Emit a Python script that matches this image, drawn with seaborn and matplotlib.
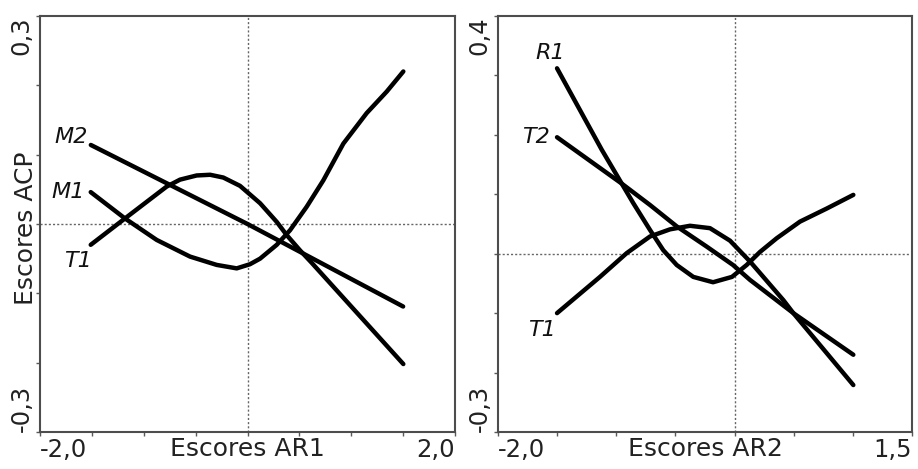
import matplotlib
matplotlib.use("Agg")
import matplotlib.pyplot as plt
import pandas as pd
import seaborn as sns

sns.set_style("white")
plt.rcParams["font.family"] = ["DejaVu Sans"]

# left panel: PCA scores vs AR1 scores
ar1_m2_x = [-1.51, 0.0, 1.50]
ar1_m2_y = [0.114, 0.0, -0.119]
ar1_m1_x = [-1.511, -1.181, -0.875, -0.554, -0.297, -0.104, 0.024, 0.121, 0.282, 0.410,
            0.571, 0.731, 0.924, 1.149, 1.342, 1.502]
ar1_m1_y = [0.046, 0.008, -0.023, -0.047, -0.059, -0.064, -0.058, -0.050, -0.030, -0.009,
            0.025, 0.063, 0.116, 0.160, 0.191, 0.220]
ar1_t1_x = [-1.511, -1.181, -0.779, -0.650, -0.490, -0.360, -0.233, -0.072, 0.121, 0.282,
            0.378, 0.506, 0.619, 1.502]
ar1_t1_y = [-0.030, 0.008, 0.054, 0.064, 0.070, 0.071, 0.067, 0.055, 0.030, 0.003,
            -0.016, -0.038, -0.056, -0.202]

# right panel: PCA scores vs AR2 scores
ar2_r1_x = [-1.501, -1.123, -0.954, -0.856, -0.715, -0.603, -0.489, -0.349, -0.182, -0.022,
            0.102, 0.215, 0.356, 0.553, 0.779, 1.004]
ar2_r1_y = [0.312, 0.175, 0.118, 0.085, 0.040, 0.006, -0.019, -0.039, -0.048, -0.039,
            -0.019, 0.003, 0.026, 0.054, 0.076, 0.099]
ar2_t2_x = [-1.501, -0.954, -0.715, -0.489, -0.236, -0.013, 0.130, 0.497, 1.004]
ar2_t2_y = [0.196, 0.118, 0.082, 0.046, 0.012, -0.019, -0.044, -0.100, -0.170]
ar2_t1_x = [-1.501, -1.138, -0.912, -0.715, -0.546, -0.377, -0.208, -0.039, 0.130,
            0.243, 0.412, 0.497, 1.004]
ar2_t1_y = [-0.100, -0.039, 0.001, 0.029, 0.041, 0.047, 0.043, 0.022, -0.013,
            -0.039, -0.078, -0.100, -0.221]

panels = [
    {
        "curves": [("M2", ar1_m2_x, ar1_m2_y, (-2, 6)),
                   ("M1", ar1_m1_x, ar1_m1_y, (-4, 0)),
                   ("T1", ar1_t1_x, ar1_t1_y, (1, -12))],
        "xlim": (-2.0, 2.0), "ylim": (-0.3, 0.3),
        "xticks": [-2.0, -1.5, -1.0, -0.5, 0.0, 0.5, 1.0, 1.5, 2.0],
        "xticklabels": ["-2,0", "", "", "", "", "", "", "", "2,0"],
        "yticks": [-0.3, -0.2, -0.1, 0.0, 0.1, 0.2, 0.3],
        "yticklabels": ["-0,3", "", "", "", "", "", "0,3"],
        "xlabel": "Escores AR1", "ylabel": "Escores ACP",
        "rect": [40 / 918, 37 / 469, 415 / 918, 416 / 469],
    },
    {
        "curves": [("R1", ar2_r1_x, ar2_r1_y, (6, 11)),
                   ("T2", ar2_t2_x, ar2_t2_y, (-5, 0)),
                   ("T1", ar2_t1_x, ar2_t1_y, (-1, -12))],
        "xlim": (-2.0, 1.5), "ylim": (-0.3, 0.4),
        "xticks": [-2.0, -1.5, -1.0, -0.5, 0.0, 0.5, 1.0, 1.5],
        "xticklabels": ["-2,0", "", "", "", "", "", "", "1,5"],
        "yticks": [-0.3, -0.2, -0.1, 0.0, 0.1, 0.2, 0.3, 0.4],
        "yticklabels": ["-0,3", "", "", "", "", "", "", "0,4"],
        "xlabel": "Escores AR2", "ylabel": "",
        "rect": [498 / 918, 37 / 469, 414 / 918, 416 / 469],
    },
]

fig = plt.figure(figsize=(9.18, 4.69), dpi=100)
for p in panels:
    ax = fig.add_axes(p["rect"])
    df = pd.concat([pd.DataFrame({"x": xs, "y": ys, "curve": name})
                    for name, xs, ys, _ in p["curves"]], ignore_index=True)
    ax.axhline(0, color="0.4", linewidth=1, linestyle=(0, (1.5, 1.5)), zorder=1)
    ax.axvline(0, color="0.4", linewidth=1, linestyle=(0, (1.5, 1.5)), zorder=1)
    sns.lineplot(data=df, x="x", y="y", units="curve", estimator=None, sort=False,
                 color="black", linewidth=3.2, ax=ax, zorder=3,
                 solid_capstyle="round", solid_joinstyle="round")
    for name, xs, ys, off in p["curves"]:
        ax.annotate(name, (xs[0], ys[0]), xytext=off, textcoords="offset points",
                    ha="right", va="center", fontsize=16, style="italic", color="#111")
    ax.set_xlim(*p["xlim"])
    ax.set_ylim(*p["ylim"])
    ax.set_xticks(p["xticks"])
    xl = ax.set_xticklabels(p["xticklabels"], fontsize=17.5, color="#222")
    xl[0].set_ha("left")
    xl[-1].set_ha("right")
    ax.set_yticks(p["yticks"])
    yl = ax.set_yticklabels(p["yticklabels"], fontsize=17.5, color="#222", rotation=90)
    yl[0].set_va("bottom")
    yl[-1].set_va("top")
    ax.tick_params(axis="both", direction="out", length=3, width=1, color="0.35", pad=1.5)
    ax.tick_params(axis="x", bottom=True)
    ax.tick_params(axis="y", left=True)
    ax.set_xlabel(p["xlabel"], fontsize=18, color="#222")
    ax.set_ylabel(p["ylabel"], fontsize=18, color="#222")
    ax.xaxis.set_label_coords(0.5, -0.012)
    ax.yaxis.set_label_coords(-0.006, 0.49)
    for s in ax.spines.values():
        s.set_color("0.3")
        s.set_linewidth(1.5)

fig.savefig("out.png", dpi=100, facecolor="white")
